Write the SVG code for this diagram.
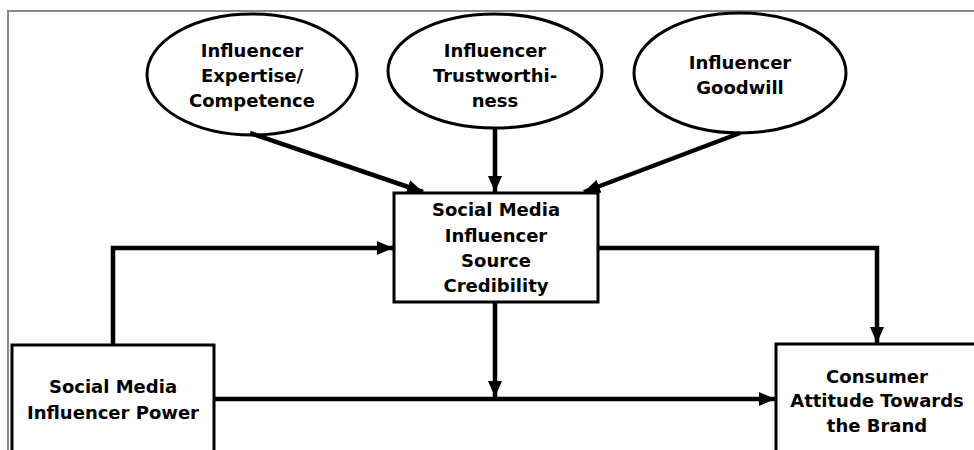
<svg xmlns="http://www.w3.org/2000/svg" width="974" height="450" viewBox="0 0 974 450">
<style>
.node{fill:#fff;stroke:#000;stroke-width:3}
.lbl{font-family:"DejaVu Sans",Verdana,sans-serif;font-weight:bold;font-size:18px;fill:#000;text-anchor:middle}
.conn{fill:none;stroke:#000;stroke-width:4.5}
</style>
<defs>
<marker id="arr" markerUnits="userSpaceOnUse" markerWidth="16" markerHeight="14" refX="16" refY="7" orient="auto">
<path d="M0,0 L16,7 L0,14 Z" fill="#000"/>
</marker>
</defs>
<rect width="974" height="450" fill="#fff"/>
<path d="M8,450 V11 H974" fill="none" stroke="#888" stroke-width="2"/>
<g id="expertise">
<ellipse class="node" cx="252" cy="74.5" rx="105" ry="60.5"/>
<text class="lbl" x="252" y="57">Influencer</text>
<text class="lbl" x="252" y="82">Expertise/</text>
<text class="lbl" x="252" y="107">Competence</text>
</g>
<g id="trust">
<ellipse class="node" cx="495" cy="71" rx="107" ry="57"/>
<text class="lbl" x="495" y="57">Influencer</text>
<text class="lbl" x="495" y="82">Trustworthi-</text>
<text class="lbl" x="495" y="107">ness</text>
</g>
<g id="goodwill">
<ellipse class="node" cx="740" cy="73" rx="106" ry="60"/>
<text class="lbl" x="740" y="69">Influencer</text>
<text class="lbl" x="740" y="94">Goodwill</text>
</g>
<g id="credibility">
<rect class="node" x="394" y="193" width="204" height="109"/>
<text class="lbl" x="496" y="216">Social Media</text>
<text class="lbl" x="496" y="241.5">Influencer</text>
<text class="lbl" x="496" y="267">Source</text>
<text class="lbl" x="496" y="292">Credibility</text>
</g>
<g id="power">
<rect class="node" x="12" y="345" width="202" height="120"/>
<text class="lbl" x="113" y="393">Social Media</text>
<text class="lbl" x="113" y="419">Influencer Power</text>
</g>
<g id="attitude">
<rect class="node" x="776" y="344" width="210" height="120"/>
<text class="lbl" x="877" y="383">Consumer</text>
<text class="lbl" x="877" y="407">Attitude Towards</text>
<text class="lbl" x="877" y="432">the Brand</text>
</g>
<g id="connectors">
<path class="conn" d="M250,133 L423,192" marker-end="url(#arr)"/>
<path class="conn" d="M495,128 V192" marker-end="url(#arr)"/>
<path class="conn" d="M740,133 L584,192" marker-end="url(#arr)"/>
<path class="conn" d="M113,345 V248 H393" marker-end="url(#arr)"/>
<path class="conn" d="M214,399 H775" marker-end="url(#arr)"/>
<path class="conn" d="M495,302 V397" marker-end="url(#arr)"/>
<path class="conn" d="M598,248 H877 V343" marker-end="url(#arr)"/>
</g>
</svg>
